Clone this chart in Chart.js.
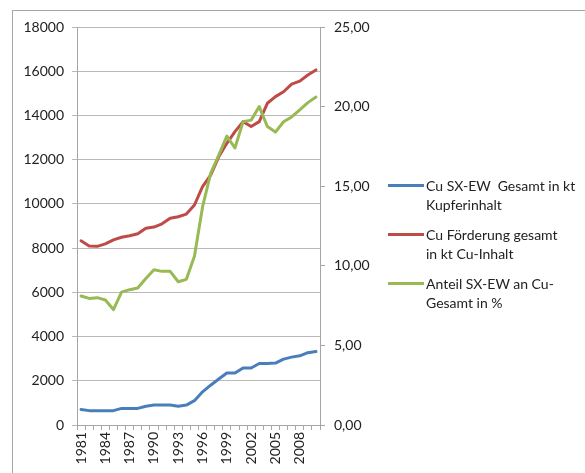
<!DOCTYPE html>
<html>
<head>
<meta charset="utf-8">
<script src="https://cdn.jsdelivr.net/npm/chart.js@4.4.1/dist/chart.umd.min.js"></script>
<style>
  html, body { margin: 0; padding: 0; background: #fff; overflow: hidden; }
  #wrap { position: relative; width: 585px; height: 473px; font-family: Lato, "Liberation Sans", sans-serif; color: #222; }
  #frame { position: absolute; left: 12px; top: 10px; width: 620px; height: 500px; border-left: 1px solid #a6a6a6; border-top: 1px solid #a6a6a6; }
  #chart { position: absolute; left: 0; top: 0; }
  .leg { position: absolute; left: 388px; font-size: 14px; line-height: 19px; }
  .leg .sw { position: absolute; left: 0; top: 8px; width: 36px; height: 3px; }
  .leg .tx { position: absolute; left: 38px; top: 0; white-space: pre; }
</style>
</head>
<body>
<div id="wrap">
  <div id="frame"></div>
  <canvas id="chart" width="585" height="473"></canvas>
  <div id="legend"></div>
</div>
<script>
  // Jahre 1981-2010
  const years = [
    "1981", "1982", "1983", "1984", "1985", "1986", "1987", "1988", "1989", "1990",
    "1991", "1992", "1993", "1994", "1995", "1996", "1997", "1998", "1999", "2000",
    "2001", "2002", "2003", "2004", "2005", "2006", "2007", "2008", "2009", "2010",
  ];

  // Cu SX-EW Gesamt in kt Kupferinhalt
  const sxew = [
    700, 650, 650, 650, 650, 750, 750, 750, 850, 900,
    900, 900, 850, 900, 1100, 1500, 1800, 2080, 2350, 2350,
    2580, 2580, 2780, 2780, 2800, 2980, 3070, 3130, 3270, 3320,
  ];

  // Cu Förderung gesamt in kt Cu-Inhalt
  const foerderung = [
    8330, 8100, 8080, 8190, 8370, 8490, 8560, 8650, 8900, 8950,
    9100, 9350, 9420, 9540, 9950, 10780, 11300, 12130, 12740, 13270,
    13720, 13500, 13720, 14550, 14850, 15070, 15420, 15550, 15830, 16060,
  ];

  // Anteil SX-EW an Cu-Gesamt in %
  const anteil = [
    8.1, 7.95, 8.0, 7.85, 7.25, 8.35, 8.5, 8.6, 9.2, 9.75,
    9.65, 9.65, 9.0, 9.15, 10.6, 13.7, 15.8, 16.95, 18.15, 17.4,
    19.05, 19.15, 20.0, 18.75, 18.4, 19.05, 19.35, 19.8, 20.25, 20.6,
  ];

  const leftTicks = { min: 0, max: 18000, step: 2000 };
  const rightTicks = { min: 0, max: 25, step: 5 };

  const seriesNames = [
    ["Cu SX-EW  Gesamt in kt", "Kupferinhalt"],
    ["Cu Förderung gesamt", "in kt Cu-Inhalt"],
    ["Anteil SX-EW an Cu-", "Gesamt in %"],
  ];
  const colors = ["#4a7ebb", "#be4b48", "#98b954"];

  const gridColor = "#b9b9b9";
  const axisColor = "#a6a6a6";
  const font = { family: "Lato, 'Liberation Sans', sans-serif", size: 14 };

  function lineDs(label, data, color, axis, order) {
    return {
      label: label,
      data: data,
      yAxisID: axis,
      borderColor: color,
      backgroundColor: color,
      borderWidth: 3,
      pointRadius: 0,
      tension: 0,
      borderJoinStyle: "round",
      borderCapStyle: "round",
      order: order,
    };
  }

  const ctx = document.getElementById("chart").getContext("2d");
  new Chart(ctx, {
    type: "line",
    data: {
      labels: years,
      datasets: [
        lineDs(seriesNames[0].join(" "), sxew, colors[0], "y", 2),
        lineDs(seriesNames[1].join(" "), foerderung, colors[1], "y", 1),
        lineDs(seriesNames[2].join(" "), anteil, colors[2], "y2", 0),
      ],
    },
    options: {
      responsive: false,
      animation: false,
      layout: { padding: { top: 27, left: 0, right: 0, bottom: 0 } },
      plugins: { legend: { display: false }, tooltip: { enabled: false } },
      scales: {
        x: {
          offset: true,
          grid: {
            display: true,
            drawOnChartArea: false,
            drawTicks: true,
            tickLength: 5,
            offset: true,
            color: axisColor,
          },
          border: { color: axisColor },
          ticks: {
            autoSkip: false,
            maxRotation: 90,
            minRotation: 90,
            padding: 2,
            color: "#222",
            font: font,
            callback: (v, i) => (i % 3 === 0 ? years[i] : ""),
          },
          afterFit: (s) => { s.height = 48; },
        },
        y: {
          position: "left",
          min: leftTicks.min,
          max: leftTicks.max,
          ticks: {
            stepSize: leftTicks.step,
            padding: 8,
            color: "#222",
            font: font,
            callback: (v) => String(v),
          },
          grid: { color: gridColor, tickLength: 5 },
          border: { color: axisColor },
          afterFit: (s) => { s.width = 77; },
        },
        y2: {
          position: "right",
          min: rightTicks.min,
          max: rightTicks.max,
          ticks: {
            stepSize: rightTicks.step,
            padding: 9,
            color: "#222",
            font: font,
            callback: (v) => v.toFixed(2).replace(".", ","),
          },
          grid: { drawOnChartArea: false, tickLength: 5, color: axisColor },
          border: { color: axisColor },
          afterFit: (s) => { s.width = 265; },
        },
      },
    },
  });

  // Legende rechts (mehrzeilig wie im Original)
  const legendEl = document.getElementById("legend");
  const legendTops = [176, 225, 274];
  seriesNames.forEach((lines, i) => {
    const item = document.createElement("div");
    item.className = "leg";
    item.style.top = legendTops[i] + "px";
    item.innerHTML =
      `<span class="sw" style="background:${colors[i]}"></span>` +
      `<span class="tx">${lines.join("\n")}</span>`;
    legendEl.appendChild(item);
  });
</script>
</body>
</html>
